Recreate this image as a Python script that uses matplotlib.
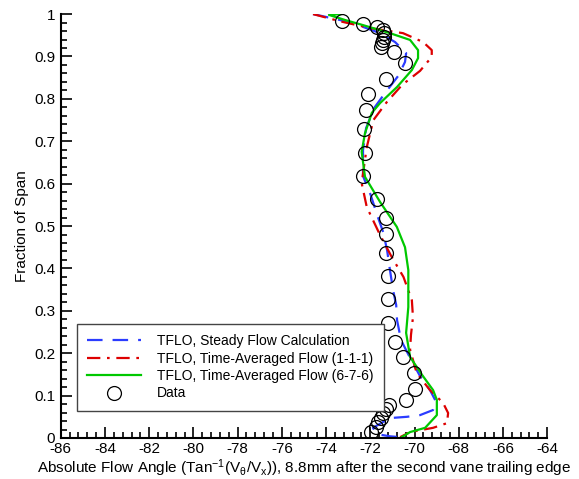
import numpy as np
import matplotlib.pyplot as plt
from matplotlib.ticker import MultipleLocator, FormatStrFormatter

plt.rcParams['font.family'] = ['Liberation Sans', 'DejaVu Sans']
plt.rcParams['mathtext.fontset'] = 'custom'
plt.rcParams['mathtext.rm'] = 'Liberation Sans'
plt.rcParams['mathtext.it'] = 'Liberation Sans'
plt.rcParams['axes.unicode_minus'] = False

# steady calculation
steady_x = [-74.59, -73.37, -72.55, -71.56, -70.88, -70.38, -70.43, -70.74, -71.33, -71.83,
            -72.19, -72.33, -72.33, -71.98, -71.69, -71.42, -71.24, -71.11, -70.97, -70.83,
            -70.79, -70.61, -70.20, -69.75, -69.30, -69.02, -69.16, -69.75, -70.34, -71.11,
            -71.88, -71.69, -71.11, -70.43]
steady_y = [1.0, 0.986, 0.974, 0.955, 0.934, 0.908, 0.887, 0.854, 0.814, 0.778,
            0.731, 0.679, 0.618, 0.573, 0.526, 0.486, 0.443, 0.396, 0.349, 0.314,
            0.278, 0.231, 0.189, 0.146, 0.113, 0.085, 0.066, 0.054, 0.050, 0.047,
            0.024, 0.009, 0.004, 0.001]

# time averaged 1-1-1
avg111_x = [-74.59, -73.37, -72.01, -70.52, -69.61, -69.22, -69.22, -69.75, -70.56, -71.26,
            -71.86, -72.16, -72.39, -72.16, -71.56, -71.03, -70.50, -70.12, -70.07, -70.16,
            -70.20, -69.90, -69.30, -68.71, -68.48, -68.53, -69.16, -70.20, -70.65]
avg111_y = [1.0, 0.983, 0.967, 0.955, 0.934, 0.915, 0.899, 0.866, 0.833, 0.792,
            0.750, 0.686, 0.601, 0.545, 0.479, 0.427, 0.380, 0.325, 0.285, 0.243,
            0.208, 0.153, 0.113, 0.083, 0.059, 0.035, 0.024, 0.014, 0.002]

# time averaged 6-7-6
avg676_x = [-73.32, -73.87, -73.14, -72.33, -71.11, -70.20, -69.84, -69.84, -70.12, -70.79,
            -71.56, -71.93, -72.24, -72.39, -72.24, -71.56, -70.80, -70.43, -70.28, -70.28,
            -70.38, -70.20, -69.66, -69.16, -68.99, -68.99, -69.52, -70.20, -70.58]
avg676_y = [1.0, 0.998, 0.986, 0.974, 0.955, 0.939, 0.915, 0.896, 0.868, 0.828,
            0.790, 0.767, 0.719, 0.675, 0.616, 0.557, 0.498, 0.450, 0.396, 0.309,
            0.248, 0.191, 0.149, 0.113, 0.090, 0.054, 0.024, 0.014, 0.002]

# measurements
data_x = [-73.29, -72.33, -71.71, -71.44, -71.38, -71.38, -71.42, -71.48, -71.53, -70.93,
          -70.43, -71.30, -72.09, -72.18, -72.27, -72.22, -72.34, -71.69, -71.30, -71.27,
          -71.27, -71.20, -71.18, -71.21, -70.88, -70.52, -70.02, -69.97, -70.38, -71.15,
          -71.29, -71.41, -71.53, -71.64, -71.76, -71.97]
data_y = [0.983, 0.976, 0.970, 0.962, 0.955, 0.946, 0.939, 0.932, 0.922, 0.911,
          0.884, 0.847, 0.811, 0.774, 0.730, 0.673, 0.619, 0.564, 0.518, 0.481,
          0.436, 0.382, 0.327, 0.271, 0.226, 0.191, 0.154, 0.116, 0.090, 0.079,
          0.068, 0.058, 0.047, 0.037, 0.026, 0.015]

fig = plt.figure(figsize=(5.79, 4.79), dpi=100)
ax = fig.add_axes([0.105, 0.0856, 0.84, 0.885])

ax.plot(steady_x, steady_y, color='#2b3cff', lw=1.6, dashes=(7, 4.5),
        label='TFLO, Steady Flow Calculation')
ax.plot(avg111_x, avg111_y, color='#dd0000', lw=1.6, dashes=(6, 3, 1.2, 3),
        label='TFLO, Time-Averaged Flow (1-1-1)')
ax.plot(avg676_x, avg676_y, color='#00c800', lw=1.6,
        label='TFLO, Time-Averaged Flow (6-7-6)')
ax.plot(data_x, data_y, 'o', ms=10, mfc='none', mec='black', mew=0.9, label='Data')

ax.set_xlim(-86, -64)
ax.set_ylim(0, 1)
ax.xaxis.set_major_locator(MultipleLocator(2))
ax.xaxis.set_minor_locator(MultipleLocator(0.4))
ax.yaxis.set_major_locator(MultipleLocator(0.1))
ax.yaxis.set_minor_locator(MultipleLocator(0.02))
ax.yaxis.set_major_formatter(FormatStrFormatter('%g'))
ax.xaxis.set_major_formatter(FormatStrFormatter('%g'))
ax.tick_params(which='both', direction='in', labelsize=11, width=1.2)
ax.tick_params(which='major', length=8)
ax.tick_params(which='minor', length=4)
ax.tick_params(axis='x', pad=3)
ax.tick_params(axis='y', pad=4)
for s in ['top', 'right']:
    ax.spines[s].set_visible(False)
for s in ['left', 'bottom']:
    ax.spines[s].set_linewidth(1.5)

ax.set_xlabel(r'Absolute Flow Angle (Tan$^{-1}$(V$_{\theta}$/V$_{x}$)), 8.8mm after the second vane trailing edge',
              fontsize=11, labelpad=1)
ax.set_ylabel('Fraction of Span', fontsize=11)

leg = ax.legend(loc='lower left', bbox_to_anchor=(0.033, 0.064), borderaxespad=0,
                fontsize=10, handlelength=3.9, handletextpad=1.1, labelspacing=0.25,
                fancybox=False, framealpha=1, borderpad=0.75)
leg.get_frame().set_edgecolor('#444444')
leg.get_frame().set_linewidth(1.0)

fig.savefig('out.png', dpi=100)
